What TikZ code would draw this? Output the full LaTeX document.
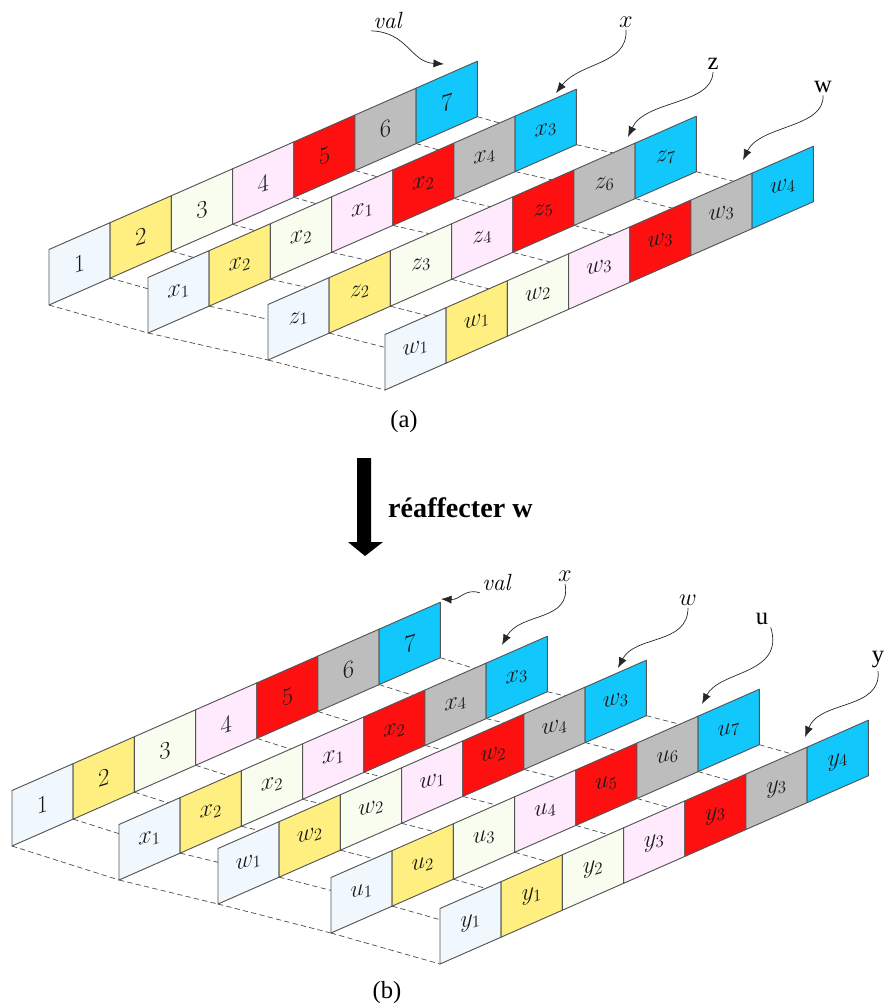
\documentclass[tikz,border=0pt]{standalone}
\usepackage{fontspec}
\newfontfamily\timesf{Liberation Serif}
\usetikzlibrary{calc,arrows.meta}
\definecolor{cell1}{HTML}{F0F8FE}
\definecolor{cell2}{HTML}{FFEF80}
\definecolor{cell3}{HTML}{F8FDEF}
\definecolor{cell4}{HTML}{FFE9FD}
\definecolor{cell5}{HTML}{FF1010}
\definecolor{cell6}{HTML}{BDBDBD}
\definecolor{cell7}{HTML}{12C7FB}
\definecolor{edgegray}{HTML}{555555}
\tikzset{
  celledge/.style={draw=edgegray, line width=0.8pt, line join=round},
  celltxt/.style={font=\fontsize{21}{24}\selectfont, inner sep=0pt, text=black!90},
  floorline/.style={draw=black!70, line width=0.6pt, dash pattern=on 4.5pt off 2.8pt},
  ptr/.style={draw=black!85, line width=0.6pt, -{Latex[length=9pt,width=7pt]}},
  lbl/.style={font=\fontsize{20}{24}\selectfont, inner sep=2pt},
  rlbl/.style={font=\timesf\fontsize{21}{24}\selectfont, inner sep=2pt},
  caption/.style={font=\timesf\fontsize{21}{24}\selectfont, inner sep=0pt},
  bigarrow/.style={fill=black, draw=none},
}
\newcommand\defstrip[3]{%
  \foreach \j in {0,...,7}{%
    \coordinate (#1b\j) at ({#2+\j*61.2},{#3-\j*26.9});
    \coordinate (#1t\j) at ({#2+\j*61.2},{#3-\j*26.9-55.5});
  }}
\newcommand\drawstrip[2]{%
  \foreach \lab [count=\i] in {#2}{%
    \pgfmathtruncatemacro\jj{\i-1}
    \filldraw[celledge, fill=cell\i] (#1b\jj) -- (#1b\i) -- (#1t\i) -- (#1t\jj) -- cycle;
    \begin{scope}[shift={($(#1b\jj)!0.5!(#1t\i)$)}, yslant=0.3]
      \node[celltxt, transform shape] (#1n\i) at (0,0) {\lab};
    \end{scope}
  }}
\newcommand\floorlines[2]{%
  \foreach \j in {0,...,7}{\draw[floorline] (#1b\j) -- (#2b\j);}}
\begin{document}
\begin{tikzpicture}[x=0.03cm, y=-0.03cm]
\useasboundingbox (0,0) rectangle (887,1007);
% ---------- panel (a) ----------
\defstrip{aA}{49}{305}
\defstrip{aB}{148}{333}
\defstrip{aC}{268}{360}
\defstrip{aD}{385}{390}
\floorlines{aA}{aB}
\floorlines{aB}{aC}
\floorlines{aC}{aD}
\drawstrip{aA}{1,2,3,4,5,6,7}
\drawstrip{aB}{$x_1$,$x_2$,$x_2$,$x_1$,$x_2$,$x_4$,$x_3$}
\drawstrip{aC}{$z_1$,$z_2$,$z_3$,$z_4$,$z_5$,$z_6$,$z_7$}
\drawstrip{aD}{$w_1$,$w_1$,$w_2$,$w_3$,$w_3$,$w_3$,$w_4$}

\node[lbl] (aval) at (388,20) {\textit{val}};
\node[lbl] (ax) at (626,22) {$x$};
\node[rlbl] (az) at (713,64) {z};
\node[rlbl] (aw) at (823,87) {w};
\coordinate (avalT) at (444,64);
\coordinate (axT) at (556,93);
\coordinate (azT) at (628,137);
\coordinate (awT) at (743,160);
\draw[ptr] (aval.south west) .. controls (408,32) and (410,62) .. (avalT);
\draw[ptr] (ax.south) .. controls (628,65) and (580,62) .. (axT);
\draw[ptr] (az.south) .. controls (712,105) and (645,100) .. (azT);
\draw[ptr] (aw.south) .. controls (825,128) and (760,125) .. (awT);

\node[caption] (capa) at (404,422) {(a)};

% ---------- transition ----------
\path[bigarrow] (357,458) coordinate (arrtop) -- (371,458) -- (371,542) -- (383,542) -- (365,556) coordinate (arrtip) -- (348,542) -- (357,542) -- cycle;
\node[font=\timesf\bfseries\fontsize{24}{28}\selectfont, anchor=west, inner sep=0pt] (reaf) at (388,508) {réaffecter w};

% ---------- panel (b) ----------
\defstrip{bA}{12}{846}
\defstrip{bB}{119}{880}
\defstrip{bC}{218}{904}
\defstrip{bD}{331}{933}
\defstrip{bE}{440}{964}
\floorlines{bA}{bB}
\floorlines{bB}{bC}
\floorlines{bC}{bD}
\floorlines{bD}{bE}
\drawstrip{bA}{1,2,3,4,5,6,7}
\drawstrip{bB}{$x_1$,$x_2$,$x_2$,$x_1$,$x_2$,$x_4$,$x_3$}
\drawstrip{bC}{$w_1$,$w_2$,$w_2$,$w_1$,$w_2$,$w_4$,$w_3$}
\drawstrip{bD}{$u_1$,$u_2$,$u_3$,$u_4$,$u_5$,$u_6$,$u_7$}
\drawstrip{bE}{$y_1$,$y_1$,$y_2$,$y_3$,$y_3$,$y_3$,$y_4$}

\node[lbl] (bval) at (497,582) {\textit{val}};
\node[lbl] (bx) at (565,576) {$x$};
\node[lbl] (bw) at (688,600) {$w$};
\node[rlbl] (bu) at (762,619) {u};
\node[rlbl] (by) at (878,660) {y};
\coordinate (bvalT) at (441,599);
\coordinate (bxT) at (502,645);
\coordinate (bwT) at (618,668);
\coordinate (buT) at (702,704);
\coordinate (byT) at (805,737);
\draw[ptr] (bval.south west) .. controls (465,588) and (460,600) .. (bvalT);
\draw[ptr] (bx.south) .. controls (572,622) and (520,612) .. (bxT);
\draw[ptr] (bw.south) .. controls (688,645) and (635,635) .. (bwT);
\draw[ptr] (bu.south east) .. controls (785,675) and (720,670) .. (buT);
\draw[ptr] (by.south) .. controls (882,710) and (820,700) .. (byT);

\node[caption] (capb) at (387,993) {(b)};
\end{tikzpicture}
\end{document}
